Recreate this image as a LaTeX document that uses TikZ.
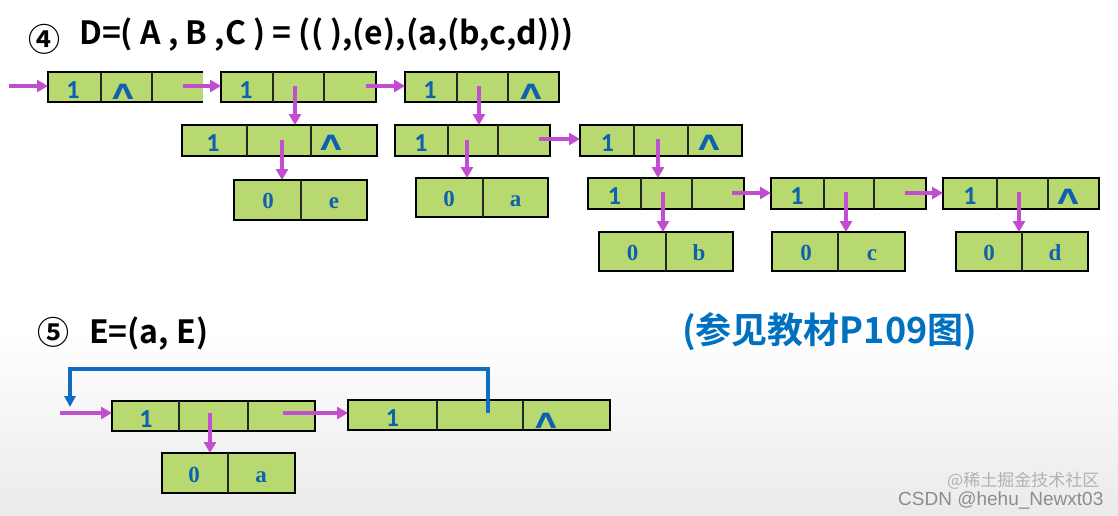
\documentclass[tikz,border=0pt]{standalone}
\usepackage{fontspec}
\setmainfont{Liberation Serif}
\newfontfamily\cjk{Noto Sans CJK SC}[BoldFont={Noto Sans CJK SC Bold}]
\newfontfamily\cellsans{Carlito}
\newfontfamily\symf{DejaVu Sans}
\newfontfamily\wmf{Liberation Sans}
\usetikzlibrary{arrows.meta,calc}
\definecolor{boxgreen}{RGB}{184,217,112}
\definecolor{arrowpink}{RGB}{193,78,208}
\definecolor{txtblue}{RGB}{16,96,176}
\definecolor{lineblue}{RGB}{16,108,192}
\definecolor{headblue}{RGB}{0,112,192}
\newcommand\nullsym{\scalebox{1.3}[1]{Λ}}
\tikzset{
  cellbox/.style={fill=boxgreen, draw=black, line width=2.6pt, inner sep=0pt, outer sep=0pt, anchor=north west},
  boxborder/.style={draw=black, line width=2.6pt},
  divline/.style={draw=black!85, line width=1.1pt},
  onecell/.style={font=\cellsans\bfseries\fontsize{26}{26}\selectfont, text=txtblue, inner sep=0pt},
  nullcell/.style={font=\symf\bfseries\fontsize{21}{21}\selectfont, text=txtblue, inner sep=0pt},
  atomcell/.style={font=\bfseries\fontsize{23}{23}\selectfont, text=txtblue, inner sep=0pt, anchor=base},
  ptr/.style={draw=arrowpink, line width=3.5pt, -{Triangle[length=11pt,width=12pt]}},
  loopptr/.style={draw=lineblue, line width=3.5pt, -{Triangle[length=11pt,width=11pt]}},
  titlest/.style={font=\cjk\bfseries\fontsize{32}{32}\selectfont, inner sep=0pt},
  notest/.style={font=\cjk\bfseries\fontsize{36}{36}\selectfont, text=headblue, inner sep=0pt},
  wmA/.style={font=\wmf\fontsize{19}{19}\selectfont, text=black!45, inner sep=0pt, anchor=base west},
  wmB/.style={font=\cjk\fontsize{17}{17}\selectfont, text=black!30, inner sep=0pt, anchor=base west},
}
\newcommand\listbox[6]{%
  \node[cellbox, minimum width={(#3-#2)*1pt}, minimum height={(#5-#4)*1pt}] (#1) at (#2,#4) {};
  \foreach \dd in {#6} {\draw[divline] (\dd,#4) -- (\dd,#5);}
}
\begin{document}
\begin{tikzpicture}[x=1pt,y=-1pt]
\useasboundingbox (0,0) rectangle (1118,515);
\fill[white] (0,0) rectangle (1118,515);
\shade[top color=white,bottom color=black!8] (0,330) rectangle (1118,515);

% titles
\node[titlest] (t4num) at (44.5,39) {④};
\node[titlest, anchor=base west] (t4) at (79,44) {D=( A , B ,C ) = (( ),(e),(a,(b,c,d)))};
\node[titlest] (t5num) at (53,332) {⑤};
\node[titlest, anchor=base west] (t5) at (89,343) {E=(a, E)};
\node[notest, anchor=base west] (note) at (682,343) {(参见教材P109图)};

% row A
\node[cellbox, draw=none, minimum width=155pt, minimum height=30pt] (a1) at (48,72) {};
\draw[divline] (101,72) -- (101,102);
\draw[divline] (152,72) -- (152,102);
\draw[boxborder] (a1.north east) -- (a1.north west) -- (a1.south west) -- (a1.south east);
\listbox{a2}{221}{376}{72}{102}{273,324}
\listbox{a3}{405}{559}{72}{102}{457,508}
\node[onecell] (a1v) at (73,90) {1};
\node[nullcell] (a1n0) at (123,92) {\nullsym};
\node[onecell] (a2v) at (246,90) {1};
\node[onecell] (a3v) at (430,90) {1};
\node[nullcell] (a3n0) at (531,92) {\nullsym};

% row B
\listbox{b1}{182}{377}{125}{156}{247,311}
\listbox{b2}{395}{550}{125}{156}{448,498}
\listbox{b3}{580}{742}{125}{156}{634,688}
\node[onecell] (b1v) at (213,143.5) {1};
\node[nullcell] (b1n0) at (331,143) {\nullsym};
\node[onecell] (b2v) at (421,143.5) {1};
\node[onecell] (b3v) at (607.5,143.5) {1};
\node[nullcell] (b3n0) at (709,143) {\nullsym};

% row C
\listbox{c1}{234}{367}{180}{220}{301}
\listbox{c2}{416}{548}{178}{217}{483}
\node[atomcell] (c1t) at (268,208) {0};
\node[atomcell] (c1a) at (334,208) {e};
\node[atomcell] (c2t) at (449,206) {0};
\node[atomcell] (c2a) at (515.5,206) {a};

% row D
\listbox{d1}{588}{744}{178}{209}{641,692}
\listbox{d2}{771}{926}{178}{209}{824,874}
\listbox{d3}{943}{1099}{178}{209}{997,1048}
\node[onecell] (d1v) at (614.5,196.5) {1};
\node[onecell] (d2v) at (797,196.5) {1};
\node[onecell] (d3v) at (970,196.5) {1};
\node[nullcell] (d3n0) at (1068,197) {\nullsym};

% row E
\listbox{e1}{599}{733}{232}{271}{666}
\listbox{e2}{772}{905}{232}{271}{838}
\listbox{e3}{956}{1088}{232}{271}{1022}
\node[atomcell] (e1t) at (632.5,260) {0};
\node[atomcell] (e1a) at (699,260) {b};
\node[atomcell] (e2t) at (806,260) {0};
\node[atomcell] (e2a) at (872,260) {c};
\node[atomcell] (e3t) at (989,260) {0};
\node[atomcell] (e3a) at (1055,260) {d};

% bottom list E
\listbox{f1}{112}{315}{401}{431}{179,248}
\listbox{f2}{348}{610}{400}{430}{437,523}
\listbox{g1}{162}{295}{453}{493}{228}
\node[onecell] (f1v) at (146,419.5) {1};
\node[onecell] (f2v) at (392.5,418.5) {1};
\node[nullcell] (f2n0) at (546,421) {\nullsym};
\node[atomcell] (g1t) at (194,482) {0};
\node[atomcell] (g1a) at (261,482) {a};

% pointers, part D
\coordinate (inA) at (9,86);
\coordinate (a1n) at (183,86);
\coordinate (a2n) at (366,86);
\coordinate (a2h) at (295,86);
\coordinate (a3h) at (479,86);
\coordinate (b1h) at (282,140);
\coordinate (b2h) at (467,140);
\coordinate (b2n) at (539,139);
\coordinate (b3h) at (658,139);
\coordinate (d1n) at (732,193);
\coordinate (d2n) at (905,193);
\coordinate (d1h) at (663,192);
\coordinate (d2h) at (846,192);
\coordinate (d3h) at (1019,192);
\draw[ptr] (inA) -- (inA -| a1.west);
\draw[ptr] (a1n) -- (a1n -| a2.west);
\draw[ptr] (a2n) -- (a2n -| a3.west);
\draw[ptr] (a2h) -- (a2h |- b1.north);
\draw[ptr] (a3h) -- (a3h |- b2.north);
\draw[ptr] (b1h) -- (b1h |- c1.north);
\draw[ptr] (b2h) -- (b2h |- c2.north);
\draw[ptr] (b2n) -- (b2n -| b3.west);
\draw[ptr] (b3h) -- (b3h |- d1.north);
\draw[ptr] (d1n) -- (d1n -| d2.west);
\draw[ptr] (d2n) -- (d2n -| d3.west);
\draw[ptr] (d1h) -- (d1h |- e1.north);
\draw[ptr] (d2h) -- (d2h |- e2.north);
\draw[ptr] (d3h) -- (d3h |- e3.north);

% pointers, part E
\coordinate (inF) at (60,413);
\coordinate (f1n) at (283,413);
\coordinate (f1h) at (210,413);
\coordinate (f2h) at (488,413);
\coordinate (loopc) at (70,369);
\coordinate (loopend) at (70,407);
\draw[ptr] (inF) -- (inF -| f1.west);
\draw[ptr] (f1n) -- (f1n -| f2.west);
\draw[ptr] (f1h) -- (f1h |- g1.north);
\draw[loopptr] (f2h) -- (f2h |- loopc) -- (loopc) -- (loopend);

% watermarks
\node[wmB] (wm2) at (947,486) {@稀土掘金技术社区};
\node[wmA] (wm1) at (898,505) {CSDN @hehu\_Newxt03};
\end{tikzpicture}
\end{document}
